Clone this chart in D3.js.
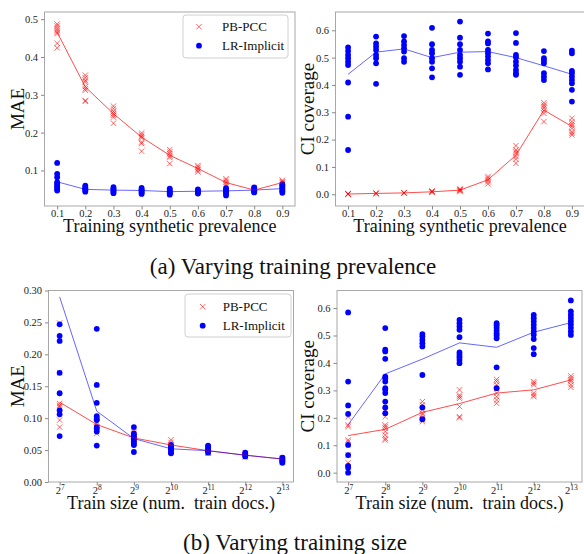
<!DOCTYPE html>
<html><head><meta charset="utf-8">
<script src="https://cdn.jsdelivr.net/npm/d3@7"></script>
<style>
body{margin:0;background:#fff}
text{font-family:"Liberation Serif","Times New Roman",serif}
</style>
</head><body>
<svg id="c" width="584" height="554"></svg>
<script>
// ---------- DATA ----------
const prevX = [0.1,0.2,0.3,0.4,0.5,0.6,0.7,0.8,0.9];
const prevTicksY_MAE = [0.1,0.2,0.3,0.4,0.5];
const ticksCI = [0.0,0.1,0.2,0.3,0.4,0.5,0.6];
const sizeExp = [7,8,9,10,11,12,13];
const sizeTicksY_MAE = [0.00,0.05,0.10,0.15,0.20,0.25,0.30];
const seriesNames = ["PB-PCC","LR-Implicit"];
const captions = ["(a) Varying training prevalence","(b) Varying training size"];

// (a) MAE vs prevalence
const prevMaePB = [
  [0.487,0.482,0.476,0.471,0.466,0.462,0.436,0.424],
  [0.352,0.345,0.338,0.334,0.322,0.316,0.312,0.285,0.283],
  [0.270,0.263,0.256,0.250,0.246,0.241,0.225],
  [0.199,0.194,0.190,0.186,0.175,0.171,0.151],
  [0.155,0.149,0.144,0.138,0.134,0.118],
  [0.113,0.109,0.104,0.100,0.096],
  [0.078,0.074,0.069,0.065,0.060],
  [0.055,0.051,0.048,0.046],
  [0.074,0.071,0.068,0.065,0.062]
];
const prevMaePBMean = [0.465,0.321,0.250,0.188,0.140,0.105,0.068,0.048,0.068];
const prevMaeLR = [
  [0.120,0.091,0.082,0.069,0.065,0.060,0.056,0.051,0.047],
  [0.060,0.056,0.053,0.050,0.047,0.044],
  [0.056,0.052,0.049,0.046,0.043,0.040],
  [0.054,0.050,0.047,0.044,0.041,0.038],
  [0.052,0.048,0.045,0.042,0.039,0.036],
  [0.050,0.047,0.044,0.041,0.039],
  [0.053,0.049,0.046,0.043,0.040,0.034],
  [0.055,0.051,0.048,0.045,0.042],
  [0.063,0.060,0.056,0.052,0.048,0.045,0.041]
];
const prevMaeLRMean = [0.070,0.050,0.048,0.047,0.044,0.045,0.046,0.048,0.052];

// (a) CI coverage vs prevalence
const prevCiPB = [
  [0.001,0.000,0.002,0.001],
  [0.002,0.004,0.003],
  [0.004,0.006,0.005],
  [0.007,0.010,0.012,0.009],
  [0.010,0.013,0.017,0.020,0.015],
  [0.065,0.059,0.052,0.046,0.038],
  [0.178,0.162,0.156,0.150,0.138,0.128,0.113],
  [0.335,0.327,0.321,0.315,0.306,0.296,0.266],
  [0.278,0.266,0.257,0.250,0.241,0.229,0.223,0.217]
];
const prevCiPBMean = [0.001,0.003,0.005,0.009,0.015,0.053,0.143,0.308,0.248];
const prevCiLR = [
  [0.537,0.524,0.510,0.498,0.485,0.473,0.409,0.284,0.162],
  [0.577,0.552,0.540,0.528,0.510,0.498,0.479,0.404],
  [0.579,0.559,0.546,0.534,0.522,0.498,0.485],
  [0.609,0.549,0.528,0.516,0.498,0.485,0.461,0.428],
  [0.632,0.573,0.549,0.528,0.510,0.498,0.485,0.467,0.437],
  [0.588,0.559,0.552,0.528,0.516,0.504,0.491,0.479,0.457],
  [0.590,0.554,0.510,0.501,0.485,0.471,0.455,0.443,0.437],
  [0.524,0.498,0.489,0.479,0.443,0.430,0.418],
  [0.526,0.516,0.451,0.443,0.430,0.418,0.406,0.382,0.339]
];
const prevCiLRMean = [0.439,0.520,0.532,0.500,0.520,0.522,0.500,0.470,0.439];

// (b) MAE vs train size
const sizeMaePB = [
  [0.249,0.171,0.123,0.120,0.118,0.097,0.086],
  [0.094,0.092,0.086,0.076],
  [0.079,0.076,0.073,0.071,0.068,0.066],
  [0.066,0.062,0.058,0.055,0.050,0.047],
  [0.055,0.052,0.050,0.048,0.046,0.045],
  [0.045,0.043,0.041,0.039],
  [0.038,0.036,0.034,0.032]
];
const sizeMaePBMean = [0.125,0.090,0.069,0.058,0.049,0.042,0.036];
const sizeMaeLR = [
  [0.247,0.229,0.221,0.171,0.139,0.112,0.106,0.072],
  [0.240,0.152,0.124,0.103,0.099,0.097,0.086,0.084,0.079,0.057],
  [0.086,0.076,0.073,0.070,0.067,0.064,0.060,0.058,0.047],
  [0.058,0.056,0.054,0.052,0.050,0.047,0.045],
  [0.057,0.055,0.052,0.050,0.048,0.046],
  [0.046,0.044,0.042,0.040],
  [0.038,0.036,0.034,0.032,0.030]
];
const sizeMaeLRMean = [0.290,0.111,0.068,0.052,0.049,0.042,0.036];

// (b) CI coverage vs train size
const sizeCiPB = [
  [0.204,0.174,0.168,0.119,0.113,0.064,0.036,0.020],
  [0.225,0.204,0.174,0.168,0.162,0.150,0.137,0.125,0.119],
  [0.259,0.247,0.229,0.217,0.211,0.199,0.192,0.186],
  [0.302,0.283,0.277,0.271,0.241,0.204,0.200],
  [0.340,0.332,0.320,0.308,0.290,0.277,0.265,0.253],
  [0.332,0.326,0.320,0.290,0.283,0.277],
  [0.353,0.345,0.338,0.332,0.320,0.311]
];
const sizeCiPBMean = [0.135,0.158,0.220,0.252,0.290,0.302,0.338];
const sizeCiLR = [
  [0.584,0.332,0.245,0.214,0.101,0.064,0.025,0.019,0.000],
  [0.527,0.448,0.442,0.415,0.350,0.344,0.332,0.308,0.302,0.290,0.259,0.238,0.217],
  [0.505,0.496,0.484,0.472,0.460,0.356,0.238,0.195],
  [0.557,0.545,0.533,0.521,0.494,0.438,0.429,0.421,0.411,0.399],
  [0.545,0.537,0.528,0.518,0.508,0.500,0.490,0.384,0.308],
  [0.575,0.563,0.551,0.539,0.527,0.515,0.503,0.487,0.454,0.432],
  [0.628,0.588,0.576,0.564,0.552,0.540,0.528,0.515,0.502]
];
const sizeCiLRMean = [0.175,0.360,0.414,0.473,0.457,0.512,0.547];

// ---------- DRAW ----------
const svg = d3.select("#c");
svg.append("rect").attr("width",584).attr("height",554).attr("fill","#fff");

const RED = "#ff0000", BLUE = "#0000ff";
const FRAME = "#a8a8a8";

function panel(cfg){
  const g = svg.append("g");
  const x = cfg.x, y = cfg.y;
  const [L,R] = x.range(), [B,T] = y.range();
  g.append("rect").attr("x",L).attr("y",T).attr("width",R-L).attr("height",B-T)
    .attr("fill","none").attr("stroke",FRAME).attr("stroke-width",1);
  const xa = g.append("g").attr("transform",`translate(0,${B})`)
    .call(d3.axisBottom(x).tickValues(cfg.xTicks).tickSize(3.5).tickFormat(""));
  xa.select(".domain").remove();
  xa.selectAll(".tick text").remove();
  xa.selectAll("line").attr("stroke","#888");
  xa.selectAll(".tick").each(function(d){
    const t = d3.select(this).append("text").attr("y",cfg.xTickY).attr("fill","#222")
      .attr("font-size",10.5).attr("text-anchor","middle");
    if(cfg.xPow){
      t.append("tspan").text("2");
      t.append("tspan").attr("dy",-4.5).attr("font-size",7.5).text(Math.round(Math.log2(d)));
    } else t.text(cfg.xFmt(d));
  });
  const ya = g.append("g").attr("transform",`translate(${L},0)`)
    .call(d3.axisLeft(y).tickValues(cfg.yTicks).tickSize(3.5).tickPadding(3).tickFormat(cfg.yFmt));
  ya.select(".domain").remove();
  ya.selectAll("line").attr("stroke","#888");
  ya.selectAll("text").attr("font-size",10.5).attr("fill","#222");
  const xv = cfg.xVals;
  const red = [], blue = [];
  cfg.redPts.forEach((arr,i)=>arr.forEach(v=>red.push([xv[i],v])));
  cfg.bluePts.forEach((arr,i)=>arr.forEach(v=>blue.push([xv[i],v])));
  const s = 2.7;
  g.append("g").selectAll("path").data(red).join("path")
    .attr("d",d=>{const px=x(d[0]),py=y(d[1]);return `M${px-s},${py-s}L${px+s},${py+s}M${px-s},${py+s}L${px+s},${py-s}`;})
    .attr("stroke",RED).attr("stroke-width",1).attr("stroke-opacity",0.6).attr("fill","none");
  g.append("g").selectAll("circle").data(blue).join("circle")
    .attr("cx",d=>x(d[0])).attr("cy",d=>y(d[1])).attr("r",2.9).attr("fill",BLUE);
  const line = d3.line().x(d=>x(d[0])).y(d=>y(d[1]));
  g.append("path").attr("d",line(xv.map((v,i)=>[v,cfg.redMean[i]])))
    .attr("fill","none").attr("stroke",RED).attr("stroke-opacity",0.7).attr("stroke-width",1);
  g.append("path").attr("d",line(xv.map((v,i)=>[v,cfg.blueMean[i]])))
    .attr("fill","none").attr("stroke",BLUE).attr("stroke-opacity",0.6).attr("stroke-width",1);
  g.append("text").attr("x",(L+R)/2).attr("y",B+cfg.xLabY).attr("text-anchor","middle")
    .attr("font-size",18).attr("fill","#111").attr("xml:space","preserve").text(cfg.xLabel);
  g.append("text").attr("transform",`translate(${cfg.yLabX},${(T+B)/2}) rotate(-90)`)
    .attr("text-anchor","middle").attr("font-size",19).attr("fill","#111").text(cfg.yLabel);
  if(cfg.legend){
    const lg = cfg.legend;
    g.append("rect").attr("x",lg.x0).attr("y",lg.y0).attr("width",lg.x1-lg.x0).attr("height",lg.y1-lg.y0)
      .attr("rx",3).attr("fill","#fff").attr("fill-opacity",0.85).attr("stroke","#d0d0d0");
    const items = g.append("g").selectAll("g").data(seriesNames).join("g")
      .attr("transform",(d,i)=>`translate(${lg.mx},${lg.yA + i*19})`);
    items.filter((d,i)=>i===0).append("path").attr("d",`M${-s},${-s}L${s},${s}M${-s},${s}L${s},${-s}`)
      .attr("stroke",RED).attr("stroke-opacity",0.6).attr("stroke-width",1);
    items.filter((d,i)=>i===1).append("circle").attr("r",2.9).attr("fill",BLUE);
    items.append("text").attr("x",lg.tx-lg.mx).attr("y",4.5).attr("font-size",13).attr("fill","#111").text(d=>d);
  }
}

const fmt1 = d3.format(".1f"), fmt2 = d3.format(".2f");

panel({
  x: d3.scaleLinear().domain([0.055,0.945]).range([44.5,295]),
  y: d3.scaleLinear().domain([0.006,0.519]).range([206,12]),
  xVals: prevX, xTicks: prevX, xFmt: fmt1, yTicks: prevTicksY_MAE, yFmt: fmt1,
  redPts: prevMaePB, redMean: prevMaePBMean, bluePts: prevMaeLR, blueMean: prevMaeLRMean,
  xLabel: "Training synthetic prevalence", yLabel: "MAE", yLabX: 24, xTickY: 11, xLabY: 26,
  legend: {x0:183,x1:288,y0:15,y1:58,mx:199,tx:222,yA:26.7}
});
panel({
  x: d3.scaleLinear().domain([0.055,0.945]).range([335.5,584.5]),
  y: d3.scaleLinear().domain([-0.043,0.667]).range([206,12]),
  xVals: prevX, xTicks: prevX, xFmt: fmt1, yTicks: ticksCI, yFmt: fmt1,
  redPts: prevCiPB, redMean: prevCiPBMean, bluePts: prevCiLR, blueMean: prevCiLRMean,
  xLabel: "Training synthetic prevalence", yLabel: "CI coverage", yLabX: 314, xTickY: 11, xLabY: 26
});
const sizes = sizeExp.map(e=>Math.pow(2,e));
panel({
  x: d3.scaleLog().base(2).domain([Math.pow(2,6.7),Math.pow(2,13.3)]).range([48.5,293.5]),
  y: d3.scaleLinear().domain([0,0.30]).range([482,290.5]),
  xVals: sizes, xTicks: sizes, xPow: true, yTicks: sizeTicksY_MAE, yFmt: fmt2,
  redPts: sizeMaePB, redMean: sizeMaePBMean, bluePts: sizeMaeLR, blueMean: sizeMaeLRMean,
  xLabel: "Train size (num.  train docs.)", yLabel: "MAE", yLabX: 24, xTickY: 12, xLabY: 27,
  legend: {x0:185,x1:291,y0:294,y1:337,mx:202.7,tx:222.7,yA:306.7}
});
panel({
  x: d3.scaleLog().base(2).domain([Math.pow(2,6.7),Math.pow(2,13.3)]).range([337,582]),
  y: d3.scaleLinear().domain([-0.034,0.664]).range([482,290.5]),
  xVals: sizes, xTicks: sizes, xPow: true, yTicks: ticksCI, yFmt: fmt1,
  redPts: sizeCiPB, redMean: sizeCiPBMean, bluePts: sizeCiLR, blueMean: sizeCiLRMean,
  xLabel: "Train size (num.  train docs.)", yLabel: "CI coverage", yLabX: 314, xTickY: 12, xLabY: 27
});

svg.append("text").attr("x",293).attr("y",274).attr("text-anchor","middle")
  .attr("font-size",23).attr("fill","#111").text(captions[0]);
svg.append("text").attr("x",295).attr("y",550).attr("text-anchor","middle")
  .attr("font-size",23).attr("fill","#111").text(captions[1]);
</script>
</body></html>
